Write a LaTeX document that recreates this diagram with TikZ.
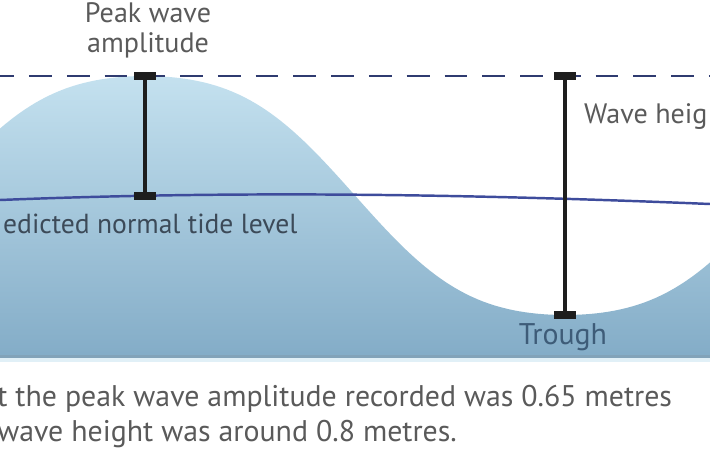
\documentclass[tikz,border=0pt]{standalone}
\usepackage{fontspec}
\setmainfont{PT Sans}
\usepackage{xcolor}
\usetikzlibrary{calc, positioning}

\definecolor{waveTop}{HTML}{C4E1EF}
\definecolor{waveMid}{HTML}{AFD1E5}
\definecolor{waveBottom}{HTML}{83ACC7}
\definecolor{dashBlue}{HTML}{2F3B70}
\definecolor{tideBlue}{HTML}{3E4C9C}
\definecolor{barDark}{HTML}{1E1E1E}
\definecolor{labelGray}{HTML}{5A5A5A}
\definecolor{tideText}{HTML}{3C4A58}
\definecolor{troughText}{HTML}{3E5C78}

\tikzset{
  barcap/.style={fill=barDark, inner sep=0pt, minimum width=12pt, minimum height=4pt},
  gaugebar/.style={barDark, line width=1.9pt},
  labeltext/.style={font=\fontsize{16}{17}\selectfont, text=labelGray},
}

\begin{document}
\begin{tikzpicture}[x=0.02cm, y=-0.02cm]

    % =================================================================
    % 1. FRAME AND MAIN COORDINATES (pixels, y downwards)
    % =================================================================
    \useasboundingbox (0,0) rectangle (710,473);
    \clip (0,0) rectangle (710,473);

    \coordinate (CrestTop) at (145,76);
    \coordinate (CrestBase) at (145,196);
    \coordinate (HeightTop) at (565,76);
    \coordinate (TroughBottom) at (565,315);

    % =================================================================
    % 2. WAVE BODY (SHADED), crest and trough a little flattened
    % =================================================================
    \shade[top color=waveTop, middle color=waveMid, bottom color=waveBottom]
      (0,358) -- plot[domain=0:710, samples=120, variable=\t]
        (\t, {195.5-119.5*(cos((\t-145)/420*180)-0.06*cos(3*(\t-145)/420*180))/0.94})
      -- (710,358) -- cycle;
    \fill[color=waveBottom!80!gray] (0,355) rectangle (710,358);
    \fill[color=waveTop!50!white] (0,358) rectangle (710,362);

    % =================================================================
    % 3. REFERENCE LINES
    % =================================================================
    % Peak level (dashed)
    \draw[dashBlue, line width=1.6pt, dash pattern=on 13pt off 8.5pt, dash phase=5pt]
      (0,76) -- (710,76);

    % Predicted normal tide level
    \draw[tideBlue, line width=1.4pt] (0,200) .. controls (200,192) and (420,192) .. (710,204);

    % =================================================================
    % 4. MEASURING BARS
    % =================================================================
    \node[barcap] (ampTop) at (CrestTop) {};
    \node[barcap] (ampBase) at (CrestBase) {};
    \draw[gaugebar] (ampTop) -- (ampBase);

    \node[barcap] (hTop) at (HeightTop) {};
    \node[barcap] (hBottom) at (TroughBottom) {};
    \draw[gaugebar] (hTop) -- (hBottom);

    % =================================================================
    % 5. LABELS
    % =================================================================
    \node[labeltext, align=center] (peakLabel) at (148,30) {Peak wave\\amplitude};
    \node[labeltext, anchor=west] (heightLabel) at (578,117) {Wave heig};
    \node[labeltext, font=\fontsize{15.7}{17}\selectfont, text=tideText, anchor=west]
      (tideLabel) at (-3,224) {edicted normal tide level};
    \node[labeltext, font=\fontsize{17}{17}\selectfont, text=troughText] (troughLabel) at (563,337) {Trough};

    \node[labeltext, font=\fontsize{17}{20}\selectfont, anchor=north west, align=left, inner sep=0pt]
      (note) at (-3,385)
      {t the peak wave amplitude recorded was 0.65 metres\\wave height was around 0.8 metres.};

\end{tikzpicture}
\end{document}
